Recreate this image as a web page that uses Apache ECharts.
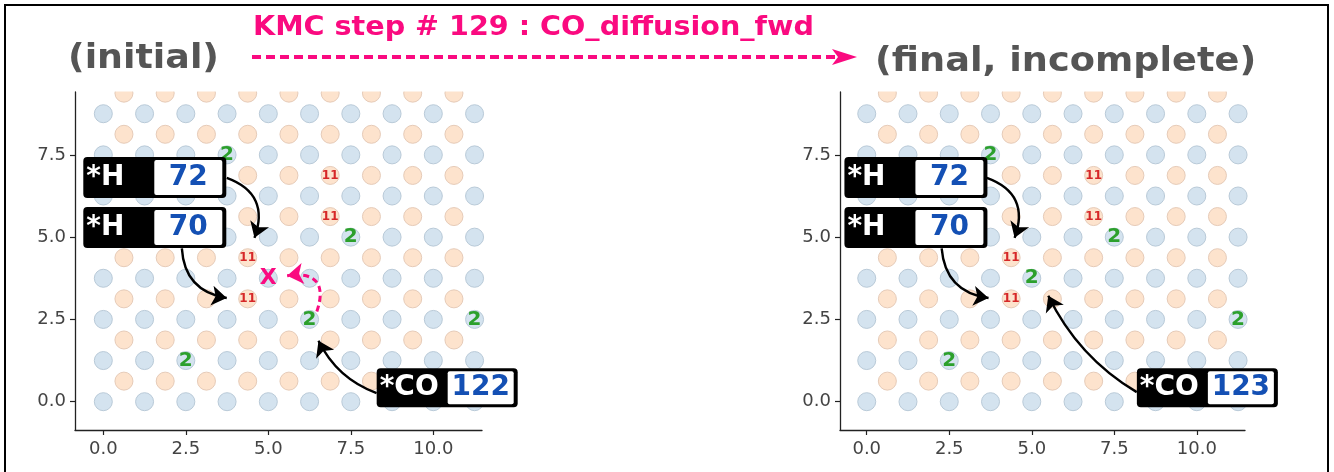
<!DOCTYPE html>
<html>
<head>
<meta charset="utf-8">
<title>KMC step 129</title>
<script src="https://cdn.jsdelivr.net/npm/echarts@6/dist/echarts.min.js"></script>
<style>
  html, body { margin: 0; padding: 0; background: #fff; }
  #main { width: 1334px; height: 472px; }
</style>
</head>
<body>
<div id="main"></div>
<script>
// lattice sites: two sublattices
const blueCols = [0, 1.25, 2.5, 3.75, 5, 6.25, 7.5, 8.75, 10, 11.25];
const blueRows = [0, 1.25, 2.5, 3.75, 5, 6.25, 7.5, 8.75];
const orangeCols = [0.625, 1.875, 3.125, 4.375, 5.625, 6.875, 8.125, 9.375, 10.625];
const orangeRows = [0.625, 1.875, 3.125, 4.375, 5.625, 6.875, 8.125, 9.375];

const xTicks = [0, 2.5, 5, 7.5, 10];
const yTicks = [0, 2.5, 5, 7.5];

// occupied sites ("2" and "11" species)
const twoInitial = [[3.75, 7.5], [7.5, 5], [6.25, 2.5], [11.25, 2.5], [2.5, 1.25]];
const twoFinal = [[3.75, 7.5], [7.5, 5], [5, 3.75], [11.25, 2.5], [2.5, 1.25]];
const elevenSites = [[6.875, 6.875], [6.875, 5.625], [4.375, 4.375], [4.375, 3.125]];
const vacancy = [[5, 3.75]];

// tag boxes: species, id, x, y
const initialTags = [['*H', '72', 1.56, 6.81], ['*H', '70', 1.56, 5.29], ['*CO', '122', 10.42, 0.42]];
const finalTags = [['*H', '72', 1.49, 6.81], ['*H', '70', 1.49, 5.29], ['*CO', '123', 10.32, 0.42]];

// arrows: from, to, curveness
const initialArrows = [
  [[3.74, 6.80], [4.58, 4.98], 0.5],
  [[2.38, 4.66], [3.74, 3.15], -0.4],
  [[8.28, 0.26], [6.52, 1.85], 0.2]
];
const finalArrows = [
  [[3.64, 6.80], [4.48, 4.98], 0.5],
  [[2.27, 4.66], [3.69, 3.15], -0.4],
  [[8.18, 0.29], [5.50, 3.22], 0.15]
];
const moveArrow = [[[6.47, 2.74], [5.57, 3.83], -0.8]];

const FONT = 'DejaVu Sans';
const PINK = '#fa0a80';
const xRange = [[-0.858, 11.475], [-0.81, 11.46]];
const yRange = [-0.86, 9.41];

function sites(cols, rows) {
  const out = [];
  rows.forEach(y => cols.forEach(x => out.push([x, y])));
  return out;
}

function panel(i, twos, tags, arrows) {
  const base = { xAxisIndex: i, yAxisIndex: i, silent: true };
  const hidden = { color: 'rgba(0,0,0,0)', opacity: 1 };
  const list = [
    Object.assign({
      type: 'scatter', z: 2, symbolSize: 18,
      itemStyle: { color: '#d4e3ef', borderColor: '#b9cad8', borderWidth: 1, opacity: 1 },
      data: sites(blueCols, blueRows)
    }, base),
    Object.assign({
      type: 'scatter', z: 2, symbolSize: 18,
      itemStyle: { color: '#fde3cd', borderColor: '#e6cbb8', borderWidth: 1, opacity: 1 },
      data: sites(orangeCols, orangeRows)
    }, base),
    Object.assign({
      type: 'scatter', z: 3, symbolSize: 1, itemStyle: hidden,
      label: { show: true, position: 'inside', formatter: '2', color: '#2ca02c', opacity: 1,
        fontSize: 20, fontWeight: 'bold', fontFamily: FONT },
      data: twos
    }, base),
    Object.assign({
      type: 'scatter', z: 3, symbolSize: 1, itemStyle: hidden,
      label: { show: true, position: 'inside', formatter: '11', color: '#d62728', opacity: 1,
        fontSize: 12, fontWeight: 'bold', fontFamily: FONT },
      data: elevenSites
    }, base),
    Object.assign({
      type: 'scatter', z: 5, symbolSize: 1, itemStyle: hidden,
      label: {
        show: true, position: 'inside', opacity: 1,
        formatter: p => '{k|' + p.data.sp + '}{' + (p.data.sp === '*H' ? 'vh' : 'vc') + '|' + p.data.num + '}',
        backgroundColor: '#000', borderRadius: 4, padding: [3, 4, 3, 3],
        rich: {
          k: { color: '#fff', fontSize: 28, fontWeight: 'bold', fontFamily: FONT, width: 68, align: 'left' },
          vh: { color: '#1450b4', backgroundColor: '#fff', fontSize: 28, fontWeight: 'bold', fontFamily: FONT,
            width: 68, height: 35, lineHeight: 35, align: 'center', borderRadius: 2 },
          vc: { color: '#1450b4', backgroundColor: '#fff', fontSize: 28, fontWeight: 'bold', fontFamily: FONT,
            width: 66, height: 33, lineHeight: 33, align: 'center', borderRadius: 2 }
        }
      },
      data: tags.map(t => ({ value: [t[2], t[3]], sp: t[0], num: t[1] }))
    }, base),
    Object.assign({
      type: 'lines', coordinateSystem: 'cartesian2d', z: 6,
      symbol: ['none', 'arrow'], symbolSize: 15,
      lineStyle: { color: '#000', width: 2.4, opacity: 1 },
      data: arrows.map(a => ({ coords: [a[0], a[1]], lineStyle: { curveness: a[2] } }))
    }, base)
  ];
  return list;
}

const series = [].concat(
  panel(0, twoInitial, initialTags, initialArrows),
  panel(1, twoFinal, finalTags, finalArrows),
  [{
    type: 'scatter', xAxisIndex: 0, yAxisIndex: 0, z: 4, silent: true,
    symbolSize: 1, itemStyle: { color: 'rgba(0,0,0,0)', opacity: 1 },
    label: { show: true, position: 'inside', formatter: 'X', color: PINK, opacity: 1,
      fontSize: 22, fontWeight: 'bold', fontFamily: FONT },
    data: vacancy
  }, {
    type: 'lines', coordinateSystem: 'cartesian2d', xAxisIndex: 0, yAxisIndex: 0, z: 6, silent: true,
    symbol: ['none', 'arrow'], symbolSize: 16,
    lineStyle: { color: PINK, width: 3, type: [6, 4], opacity: 1 },
    data: moveArrow.map(a => ({ coords: [a[0], a[1]], lineStyle: { curveness: a[2] } }))
  }]
);

function xAxis(i) {
  return {
    gridIndex: i, type: 'value', min: xRange[i][0], max: xRange[i][1],
    splitLine: { show: false },
    axisLine: { onZero: false, lineStyle: { color: '#222', width: 1.3 } },
    axisTick: { show: true, length: 5, customValues: xTicks, lineStyle: { color: '#222', width: 1.2 } },
    axisLabel: { customValues: xTicks, formatter: v => v.toFixed(1), color: '#444',
      fontSize: 18, fontFamily: FONT, margin: 10 }
  };
}
function yAxis(i) {
  return {
    gridIndex: i, type: 'value', min: yRange[0], max: yRange[1],
    splitLine: { show: false },
    axisLine: { onZero: false, lineStyle: { color: '#222', width: 1.3 } },
    axisTick: { show: true, length: 5, customValues: yTicks, lineStyle: { color: '#222', width: 1.2 } },
    axisLabel: { customValues: yTicks, formatter: v => v.toFixed(1), color: '#444',
      fontSize: 18, fontFamily: FONT, margin: 9 }
  };
}

function headText(text, x, y, size, color, sx) {
  return { type: 'text', z: 60, silent: true, x: x, y: y, scaleX: sx,
    style: { text: text, font: 'bold ' + size + 'px "DejaVu Sans"', fill: color,
      align: 'left', verticalAlign: 'middle', textAlign: 'left', textVerticalAlign: 'middle' } };
}

const chart = echarts.init(document.getElementById('main'));
chart.setOption({
  animation: false,
  backgroundColor: '#fff',
  grid: [
    { left: 75, top: 92, width: 407, height: 338 },
    { left: 840, top: 92, width: 405, height: 338 }
  ],
  xAxis: [xAxis(0), xAxis(1)],
  yAxis: [yAxis(0), yAxis(1)],
  series: series,
  graphic: [
    // hide lattice overflow above the plot areas
    { type: 'rect', z: 50, silent: true, shape: { x: 76, y: 78, width: 412, height: 13.5 }, style: { fill: '#fff' } },
    { type: 'rect', z: 50, silent: true, shape: { x: 841, y: 78, width: 412, height: 13.5 }, style: { fill: '#fff' } },
    // frame
    { type: 'rect', z: 60, silent: true, shape: { x: 5, y: 5, width: 1323, height: 480 },
      style: { fill: 'none', stroke: '#000', lineWidth: 2 } },
    headText('KMC step # 129 : CO_diffusion_fwd', 253, 28, 26, PINK, 1.1),
    { type: 'line', z: 60, silent: true, shape: { x1: 252, y1: 57, x2: 838, y2: 57 },
      style: { stroke: PINK, lineWidth: 4, lineDash: [9, 5] } },
    { type: 'polygon', z: 60, silent: true, shape: { points: [[857, 57], [832, 49], [838, 57], [832, 65]] },
      style: { fill: PINK } },
    headText('(initial)', 68, 59, 34, '#555', 1.07),
    headText('(final, incomplete)', 875, 62, 34, '#555', 1.08)
  ]
});
</script>
</body>
</html>
